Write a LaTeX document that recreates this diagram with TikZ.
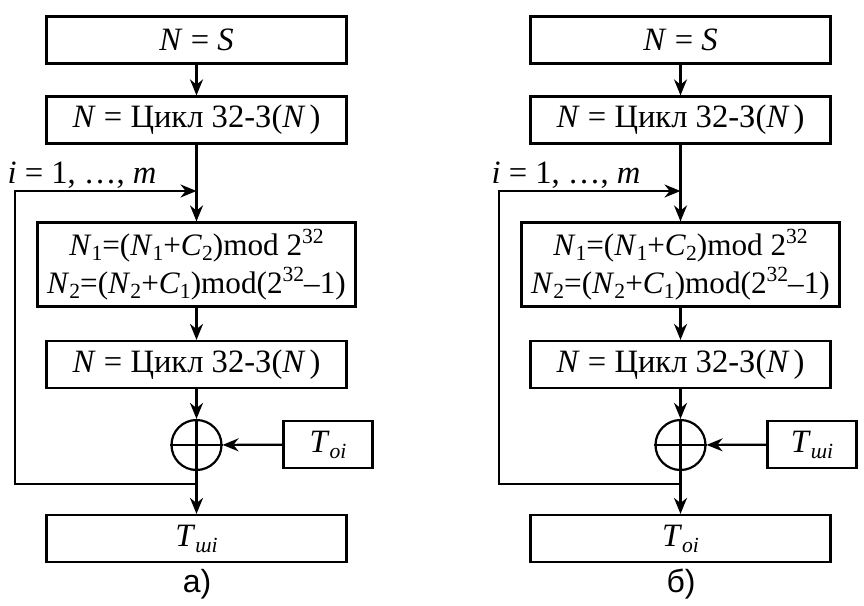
\documentclass[tikz,border=0pt]{standalone}
\usepackage{fontspec}
\setmainfont{Liberation Serif}
\setsansfont{Liberation Sans}
\usetikzlibrary{arrows.meta,positioning}

\newcommand{\lo}[1]{\raisebox{-0.4ex}{\fontsize{10.8}{10.8}\selectfont #1}}
\newcommand{\hi}[1]{\raisebox{0.8ex}{\fontsize{10.8}{10.8}\selectfont #1}}
\tikzset{
  blk/.style={draw, minimum width=150pt, minimum height=23.5pt, inner sep=0pt},
  wblk/.style={draw, minimum width=159pt, minimum height=42pt, inner sep=0pt, align=center,
    font=\fontsize{15.6}{19}\selectfont},
  tblk/.style={draw, minimum width=44.5pt, minimum height=23.5pt, inner sep=0pt},
  xorc/.style={draw, circle, minimum size=25pt, inner sep=0pt},
}

\begin{document}
\begin{tikzpicture}[x=0.5pt, y=-0.5pt, line width=1.1pt,
    font=\fontsize{16.3}{18.5}\selectfont, >={Stealth[length=8pt,width=6.5pt]}]
  \useasboundingbox (0,0) rectangle (864,606);
  \foreach \dx/\nm/\tin/\tout/\cap in {0/a/oi/шi/а), 484/b/шi/oi/б)}{
    \node[blk] (s\nm) at (\dx+196.5,40) {\textit{N} = \textit{S}};
    \node[blk] (c\nm) at (\dx+196.5,120) {\textit{N} = Цикл 32-З(\textit{N\,})};
    \node[wblk] (m\nm) at (\dx+196.5,264.5)
      {\textit{N}\lo{1}=(\textit{N}\lo{1}+\textit{C}\lo{2})mod 2\hi{32}\\
       \textit{N}\lo{2}=(\textit{N}\lo{2}+\textit{C}\lo{1})mod(2\hi{32}–1)};
    \node[blk] (d\nm) at (\dx+196.5,364.5) {\textit{N} = Цикл 32-З(\textit{N\,})};
    \node[xorc] (x\nm) at (\dx+196.5,445) {};
    \node[tblk] (t\nm) at (\dx+328,444.5) {\textit{T}\lo{\textit{\tin}}};
    \node[blk] (o\nm) at (\dx+196.5,538.5) {\textit{T}\lo{\textit{\tout}}};
    \node (lp\nm) at (\dx+82,175) {\textit{i} = 1, …, \textit{m}};
    \node[font=\sffamily\fontsize{16}{18}\selectfont] (cap\nm) at (\dx+197,584) {\cap};
    \coordinate (j\nm) at (\dx+196.5,484);
    \coordinate (e\nm) at (\dx+196.5,191);
    \coordinate (l\nm) at (\dx+15,484);
    % plus sign
    \draw (x\nm.north) -- (x\nm.south) (x\nm.west) -- (x\nm.east);
    \draw[->] (s\nm) -- (c\nm);
    \draw (c\nm) -- (e\nm);
    \draw[->] (e\nm) -- (m\nm);
    \draw[->] (m\nm) -- (d\nm);
    \draw[->] (d\nm) -- (x\nm);
    \draw[->] (t\nm) -- (x\nm);
    \draw (x\nm.south) -- (j\nm);
    \draw[->] (j\nm) -- (o\nm);
    % loop back
    \draw[->] (j\nm) -- (l\nm) |- (e\nm);
  }
\end{tikzpicture}
\end{document}
